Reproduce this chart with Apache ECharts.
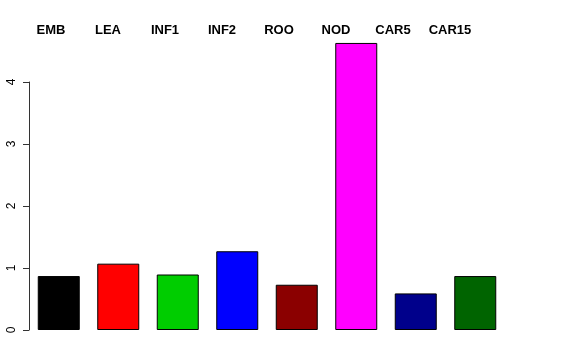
<!DOCTYPE html>
<html><head><meta charset="utf-8">
<script src="https://cdn.jsdelivr.net/npm/echarts@6/dist/echarts.min.js"></script>
<style>html,body{margin:0;padding:0;background:#fff}#c{width:576px;height:360px}</style>
</head><body><div id="c"></div>
<script>
const categories = ["EMB","LEA","INF1","INF2","ROO","NOD","CAR5","CAR15"];
const values = [0.87, 1.07, 0.895, 1.27, 0.73, 4.63, 0.59, 0.87];
const colors = ["#000000","#FF0000","#00CD00","#0000FF","#8B0000","#FF00FF","#00008B","#006400"];
const yTicks = [0,1,2,3,4];

const chart = echarts.init(document.getElementById('c'), null, {renderer:'canvas'});
chart.setOption({
  animation:false,
  backgroundColor:'#fff',
  textStyle:{fontFamily:'Liberation Sans, Arial, sans-serif'},
  grid:[
    {left:29, width:476, top:82, bottom:30, containLabel:false},
    {left:22.5, width:456, top:30, height:1, containLabel:false}
  ],
  xAxis:[
    {type:'category', gridIndex:0, data:categories, axisLine:{show:false}, axisTick:{show:false}, axisLabel:{show:false}, splitLine:{show:false}},
    {type:'category', gridIndex:1, data:categories, position:'top', axisLine:{show:false}, axisTick:{show:false}, splitLine:{show:false},
     axisLabel:{show:true, margin:0, verticalAlign:'middle', color:'#000', fontWeight:'bold', fontSize:13, fontFamily:'Liberation Sans, Arial, sans-serif'}}
  ],
  yAxis:[
    {type:'value', gridIndex:0, min:yTicks[0], max:yTicks[yTicks.length-1], interval:1,
     axisLine:{show:true, lineStyle:{color:'#333', width:1}},
     axisTick:{show:true, length:6, lineStyle:{color:'#333'}},
     axisLabel:{rotate:90, margin:11, color:'#000', fontSize:12},
     splitLine:{show:false}},
    {type:'value', gridIndex:1, show:false}
  ],
  series:[{
    type:'bar', xAxisIndex:0, yAxisIndex:0, clip:false, barWidth:42,
    data: values.map((v,i)=>({value:v, itemStyle:{color:colors[i], borderColor:'#000', borderWidth:1}}))
  }]
});
</script></body></html>
